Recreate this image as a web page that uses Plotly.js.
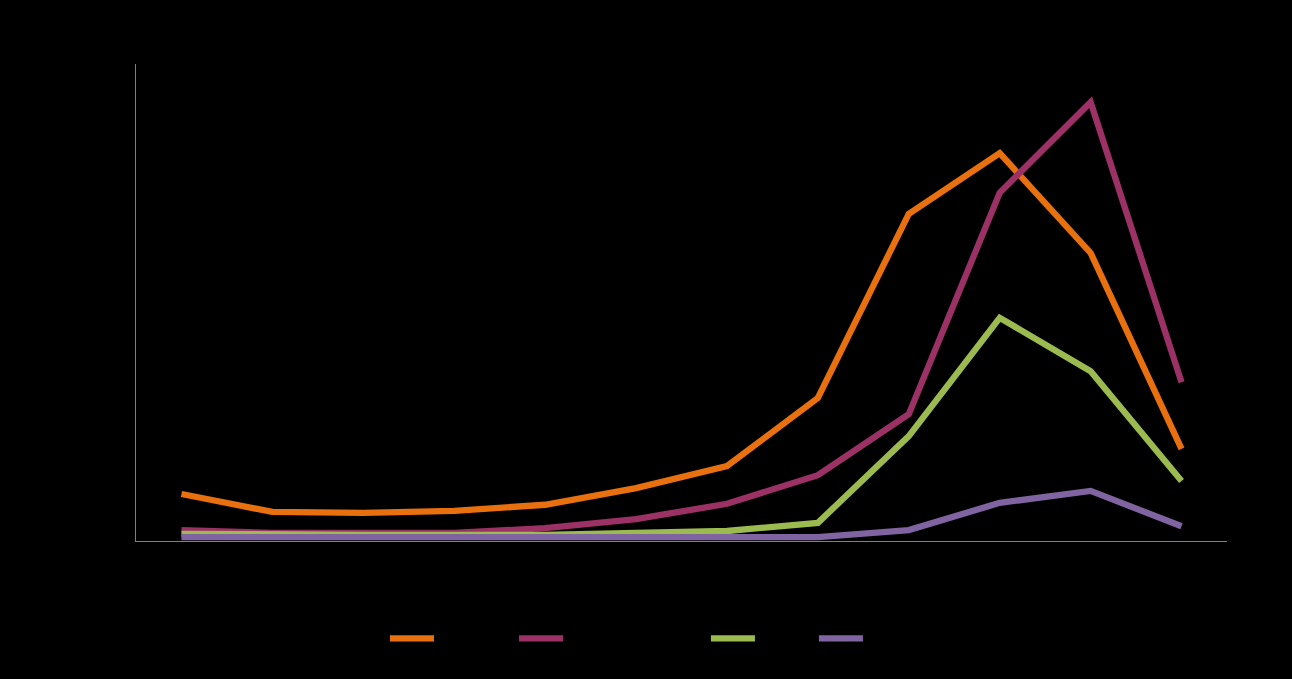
<!DOCTYPE html>
<html>
<head>
<meta charset="utf-8">
<script src="https://cdn.plot.ly/plotly-3.0.1.min.js"></script>
<style>html,body{margin:0;padding:0;background:#000;}#chart{width:1292px;height:679px;}</style>
</head>
<body>
<div id="chart"></div>
<script>
var categories = ["1","2","3","4","5","6","7","8","9","10","11","12"];
var seriesNames = ["Series one", "Series two (longer name)", "Series 3", "Series 4"];
var seriesA = [9.85, 6.1, 5.9, 6.3, 7.6, 11.1, 15.7, 30.0, 68.6, 81.3, 60.4, 19.3];
var seriesB = [2.3, 1.7, 1.7, 1.7, 2.7, 4.6, 7.8, 13.8, 26.6, 73.0, 92.0, 33.3];
var seriesC = [1.5, 1.3, 1.3, 1.3, 1.3, 1.7, 2.1, 3.8, 22.0, 46.8, 35.6, 12.6];
var seriesD = [0.8, 0.8, 0.8, 0.8, 0.8, 0.8, 0.8, 0.8, 2.3, 8.0, 10.5, 3.1];
var colors = ["#E8700E", "#9B3164", "#9BBB50", "#8064A2"];

var legendIds = ["legend", "legend2", "legend3", "legend4"];
var allSeries = [seriesA, seriesB, seriesC, seriesD];
var traces = allSeries.map(function(vals, i){
  return {
    x: categories, y: vals, type: "scatter", mode: "lines", name: seriesNames[i],
    legend: legendIds[i],
    line: {color: colors[i], width: 6.3, shape: "linear"}
  };
});

function leg(xPaper){
  return {orientation: "h", x: xPaper, xanchor: "left", y: -0.205, yanchor: "middle",
          font: {color: "#000", size: 14}, bgcolor: "rgba(0,0,0,0)", itemwidth: 44};
}

var layout = {
  width: 1292, height: 679,
  paper_bgcolor: "#000", plot_bgcolor: "#000",
  margin: {l: 136, r: 65, t: 64, b: 138},
  font: {family: "Liberation Sans, Arial, sans-serif", size: 14, color: "#000"},
  xaxis: {type: "category", range: [-0.5, 11.5], showgrid: false, zeroline: false, showline: true, linecolor: "#808080", linewidth: 1,
          ticks: "", showticklabels: true, tickfont: {color: "#000"}},
  yaxis: {range: [0, 100], showgrid: false, zeroline: false, showline: true, linecolor: "#808080", linewidth: 1,
          ticks: "", showticklabels: true, tickfont: {color: "#000"}},
  showlegend: true,
  legend: leg(0.2282), legend2: leg(0.3465), legend3: leg(0.5224), legend4: leg(0.6214)
};
Plotly.newPlot("chart", traces, layout, {displayModeBar: false, staticPlot: true});
</script>
</body>
</html>
